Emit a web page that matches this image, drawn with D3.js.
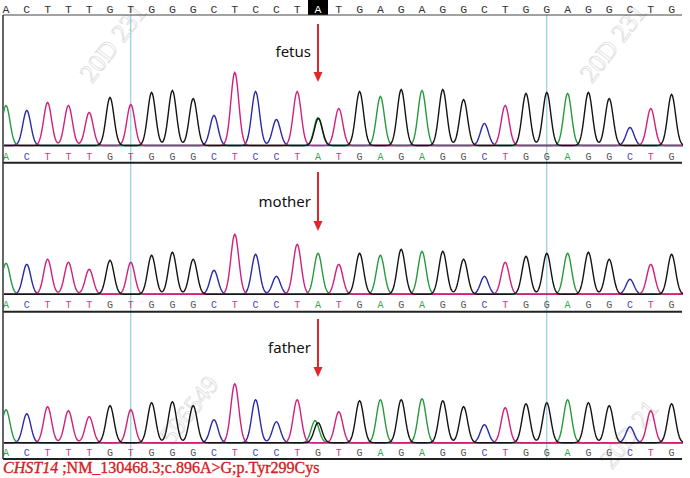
<script src="https://d3js.org/d3.v7.min.js"></script>

<style>
  body { margin: 0; background: #fff; }
  .hdr text { font-family: 'Liberation Mono', monospace; font-size: 11.5px; fill: #333; }
  .calls text { font-family: 'Liberation Mono', monospace; font-size: 10px; }
  .trace { fill: none; stroke-width: 1.4; }
  .who { font-family: 'Noto Sans', sans-serif; font-size: 15px; fill: #111; }
  .mark { font-family: 'Liberation Serif', serif; font-size: 26px; fill: none; stroke: #dedede; stroke-width: 0.8; }
</style>

<svg id="chroma"></svg>

<script>
const WIDTH  = 690;
const HEIGHT = 478;

// reference sequence shown on top, the highlighted base is index 15
const reference = 'ACTTTGTGGGCTCCTATGAGAGGCTGGAGGCTG'.split('');
const highlight = 15;

// called bases per sample
const fetusCalls  = 'ACTTTGTGGGCTCCTATGAGAGGCTGGAGGCTG'.split('');
const motherCalls = 'ACTTTGTGGGCTCCTATGAGAGGCTGGAGGCTG'.split('');
const fatherCalls = 'ACTTTGTGGGCTCCTGTGAGAGGCTGGAGGCTG'.split('');

// peak heights of the called base (px of signal)
const fetusHeights  = [40, 35, 43, 40, 33, 48, 41, 53, 55, 47, 30, 73, 54, 26, 54, 28, 37,
                       54, 49, 56, 55, 56, 46, 22, 40, 52, 53, 52, 53, 47, 18, 37, 51];
const motherHeights = [31, 30, 35, 32, 25, 34, 32, 39, 42, 35, 24, 60, 40, 18, 50, 41, 30,
                       41, 39, 45, 43, 43, 35, 18, 32, 38, 41, 41, 42, 35, 15, 30, 40];
const fatherHeights = [33, 29, 36, 32, 26, 37, 33, 40, 41, 37, 23, 59, 43, 21, 43, 20, 31,
                       42, 43, 43, 44, 42, 36, 18, 35, 39, 40, 43, 40, 37, 16, 32, 39];

// second peaks under the called ones
const fetusExtra  = [{ pos: 15, base: 'G', h: 27, shift: 0.02 }];
const motherExtra = [];
const fatherExtra = [{ pos: 15, base: 'A', h: 22, shift: -0.14 }];

const samples = [
  { name: 'fetus',  calls: fetusCalls,  heights: fetusHeights,  extra: fetusExtra },
  { name: 'mother', calls: motherCalls, heights: motherHeights, extra: motherExtra },
  { name: 'father', calls: fatherCalls, heights: fatherHeights, extra: fatherExtra }
];

// panel geometry
const LEFT      = 3;
const RIGHT     = 682;
const HDR_LINE  = 15;
const PANELS    = [
  { top: 15,    base: 145.5, label: 159.5, bottom: 162.7, arrow: [24, 82],   text: 57 },
  { top: 162.7, base: 294.3, label: 307.7, bottom: 311.7, arrow: [172, 231], text: 207 },
  { top: 311.7, base: 442.7, label: 456,   bottom: 459,   arrow: [319, 377], text: 353 }
];
const CURSORS = [6, 26];

const traceColor = { A: '#279a3e', C: '#2a2aa8', G: '#141414', T: '#d0207c' };
const labelColor = { A: '#3aa34a', C: '#3f3fc0', G: '#555555', T: '#d03c84' };

const svg = d3.select('#chroma')
  .attr('width', WIDTH)
  .attr('height', HEIGHT);

const x = d3.scaleLinear()
  .domain([0, reference.length - 1])
  .range([6, 671.6]);

svg.append('defs').append('clipPath')
  .attr('id', 'plotclip')
  .append('rect')
    .attr('x', LEFT + 1)
    .attr('y', 0)
    .attr('width', RIGHT - LEFT)
    .attr('height', HEIGHT);

// watermarks
const marks = [
  { t: '20D 231', x: 92,  y: 84,  r: -52 },
  { t: '20D 231', x: 592, y: 84,  r: -52 },
  { t: '596549',  x: 172, y: 446, r: -52 },
  { t: '20D 21',  x: 612, y: 470, r: -52 }
];
svg.append('g').selectAll('text')
  .data(marks)
  .join('text')
    .attr('class', 'mark')
    .attr('transform', d => 'translate(' + d.x + ',' + d.y + ') rotate(' + d.r + ')')
    .text(d => d.t);

// header sequence
const hdr = svg.append('g').attr('class', 'hdr');
hdr.append('rect')
  .attr('x', x(highlight) - 10)
  .attr('y', 0)
  .attr('width', 20)
  .attr('height', HDR_LINE)
  .attr('fill', '#000');
hdr.selectAll('text')
  .data(reference)
  .join('text')
    .attr('x', (d, i) => x(i))
    .attr('y', 12.5)
    .attr('text-anchor', 'middle')
    .style('fill', (d, i) => i === highlight ? '#fff' : '#333')
    .text(d => d);

// cursors
svg.append('g').selectAll('line')
  .data(CURSORS)
  .join('line')
    .attr('x1', d => x(d)).attr('x2', d => x(d))
    .attr('y1', HDR_LINE).attr('y2', 459)
    .attr('stroke', '#7cc6da')
    .attr('stroke-width', 1);

const sigma = 0.19;
const step = 0.04;
const ts = d3.range(-0.6, reference.length - 0.4, step);

samples.forEach(function(s, k) {
  const P = PANELS[k];
  const y = d3.scaleLinear()
    .domain([0, 100])
    .range([P.base, P.base - 100]);

  const peaks = s.calls.map((b, i) => ({ pos: i, base: b, h: s.heights[i], shift: 0 }))
    .concat(s.extra);

  const line = d3.line()
    .x(d => x(d[0]))
    .y(d => y(d[1]));

  const g = svg.append('g').attr('clip-path', 'url(#plotclip)');

  ['C', 'A', 'T', 'G'].forEach(function(b) {
    const mine = peaks.filter(p => p.base === b);
    const pts = ts.map(function(t) {
      let v = 0;
      mine.forEach(function(p) {
        const d = t - (p.pos + p.shift);
        v += p.h * Math.exp(-d * d / (2 * sigma * sigma));
      });
      return [t, v];
    });
    g.append('path')
      .attr('class', 'trace')
      .attr('stroke', traceColor[b])
      .attr('d', line(pts));
  });

  // called bases
  svg.append('g').attr('class', 'calls')
    .selectAll('text')
    .data(s.calls)
    .join('text')
      .attr('x', (d, i) => x(i))
      .attr('y', P.label)
      .attr('text-anchor', 'middle')
      .style('fill', d => labelColor[d])
      .text(d => d);

  // arrow and label
  const ax = x(highlight);
  svg.append('line')
    .attr('x1', ax).attr('x2', ax)
    .attr('y1', P.arrow[0]).attr('y2', P.arrow[1] - 8)
    .attr('stroke', '#e0282a')
    .attr('stroke-width', 2);
  svg.append('path')
    .attr('d', 'M' + (ax - 4.5) + ',' + (P.arrow[1] - 10) + 'L' + (ax + 4.5) + ',' + (P.arrow[1] - 10) +
               'L' + ax + ',' + P.arrow[1] + 'Z')
    .attr('fill', '#e0282a');
  svg.append('text')
    .attr('class', 'who')
    .attr('x', ax - 7)
    .attr('y', P.text)
    .attr('text-anchor', 'end')
    .text(s.name);

  // panel bottom line
  svg.append('line')
    .attr('x1', LEFT).attr('x2', RIGHT)
    .attr('y1', P.bottom).attr('y2', P.bottom)
    .attr('stroke', '#222')
    .attr('stroke-width', 2);
});

// header underline and left edge
svg.append('line')
  .attr('x1', LEFT).attr('x2', RIGHT)
  .attr('y1', HDR_LINE).attr('y2', HDR_LINE)
  .attr('stroke', '#444')
  .attr('stroke-width', 1);
svg.append('line')
  .attr('x1', LEFT).attr('x2', LEFT)
  .attr('y1', HDR_LINE).attr('y2', 459)
  .attr('stroke', '#333')
  .attr('stroke-width', 1.5);

// variant caption
const cap = svg.append('text')
  .attr('x', 3)
  .attr('y', 473)
  .attr('font-family', "'Liberation Serif', serif")
  .attr('font-size', 16)
  .attr('fill', '#d42020')
  .attr('stroke', '#d42020')
  .attr('stroke-width', 0.35);
cap.append('tspan').attr('font-style', 'italic').text('CHST14');
cap.append('tspan').text(' ;NM_130468.3;c.896A>G;p.Tyr299Cys');
</script>
